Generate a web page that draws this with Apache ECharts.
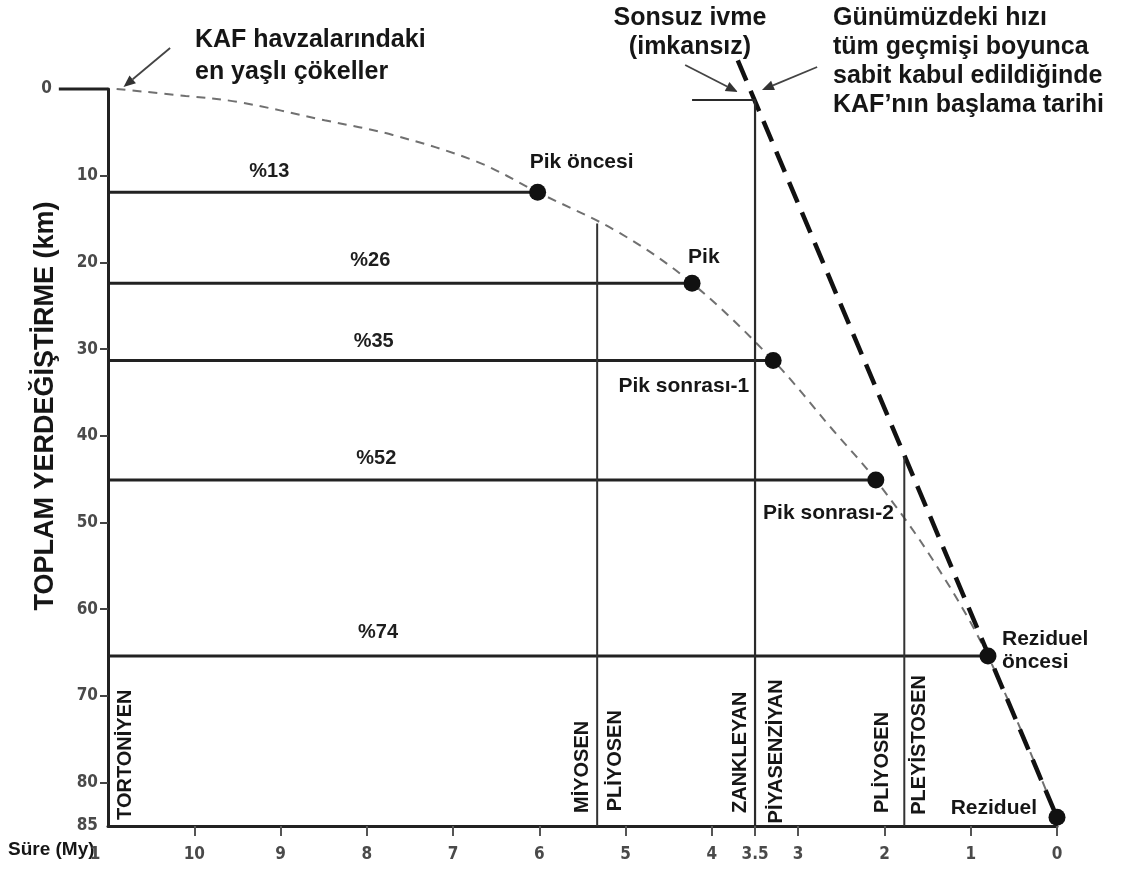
<!DOCTYPE html>
<html>
<head>
<meta charset="utf-8">
<script src="https://cdn.jsdelivr.net/npm/echarts@6/dist/echarts.min.js"></script>
<style>
html,body{margin:0;padding:0;background:#fff;}
#c{width:1143px;height:873px;}
</style>
</head>
<body>
<div id="c"></div>
<script>
// ---------------- data ----------------
const xTickValues = [11, 10, 9, 8, 7, 6, 5, 4, 3.5, 3, 2, 1, 0];
const xTickLabels = ['1', '10', '9', '8', '7', '6', '5', '4', '3.5', '3', '2', '1', '0'];
const yTickValues = [0, 10, 20, 30, 40, 50, 60, 70, 80, 85];
const yTickLabels = ['0', '10', '20', '30', '40', '50', '60', '70', '80', '85'];

const pointNames = ['Pik öncesi', 'Pik', 'Pik sonrası-1', 'Pik sonrası-2', 'Reziduel\nöncesi', 'Reziduel'];
const pointTime  = [6.02, 4.23, 3.29, 2.10, 0.80, 0.00];
const pointDisp  = [11.9, 22.4, 31.3, 45.1, 65.4, 84.0];

const pctLabels    = ['%13', '%26', '%35', '%52', '%74'];
const pctLabelTime = [9.13, 7.96, 7.92, 7.89, 7.87];

const curveTime = [10.9, 10.1, 9.49, 8.49, 7.7, 6.72, 6.02, 5.07, 4.23, 3.29, 2.6, 2.1, 1.44, 0.8, 0];
const curveDisp = [0, 0.8, 1.5, 3.6, 5.3, 8.4, 11.9, 16.6, 22.4, 31.3, 39.3, 45.1, 54.3, 65.4, 84];

const constRateTime = [3.70, 0];
const constRateDisp = [-3.3, 84];

const boundaryTime = [5.33, 1.77];
const boundaryTop  = [15.5, 42.4];
const axisBottom   = 85;
const startMarkTime = [4.23, 3.5, 3.5];
const startMarkDisp = [1.27, 1.27, 85];
const zeroTickTime = [11.57, 11];

const stageNames = ['TORTONİYEN', 'MİYOSEN', 'PLİYOSEN', 'ZANKLEYAN', 'PİYASENZİYAN', 'PLİYOSEN', 'PLEYİSTOSEN'];
const stageTime  = [10.8, 5.5, 5.12, 3.67, 3.25, 2.02, 1.59];
const stageDisp  = [84.3, 83.5, 83.3, 83.5, 84.7, 83.5, 83.7];

const arrowFromTime = [10.28, 4.31, 2.78];
const arrowFromDisp = [-4.73, -2.77, -2.54];
const arrowToTime   = [10.82, 3.70, 3.42];
const arrowToDisp   = [-0.23, 0.35, 0.12];

// ---------------- styles ----------------
const TXT = '#161616';
const FONT = "'Liberation Sans', Arial, 'DejaVu Sans', sans-serif";
const NARROW = "'Liberation Sans Narrow', 'DejaVu Sans Condensed', 'Liberation Sans', sans-serif";

const pointLabelStyle = [
  {align: 'left',  offset: [-8, -30]},
  {align: 'left',  offset: [-4, -26]},
  {align: 'right', offset: [-24, 26]},
  {align: 'right', offset: [18, 33]},
  {align: 'left',  offset: [14, -5]},
  {align: 'right', offset: [-20, -9]}
];
const pctOffsets = [-21, -23, -19, -22, -24];

const chart = echarts.init(document.getElementById('c'), null, {renderer: 'canvas'});

const series = [];

// thin dashed curve
series.push({
  type: 'line', name: 'curve', silent: true,
  data: curveTime.map((t, i) => [t, curveDisp[i]]),
  smooth: 0.35, showSymbol: false, z: 2,
  lineStyle: {color: '#707070', width: 2, type: [9, 7]}
});

// constant-rate thick dashed line
series.push({
  type: 'line', name: 'const', silent: true, clip: false,
  data: constRateTime.map((t, i) => [t, constRateDisp[i]]),
  showSymbol: false, z: 3,
  lineStyle: {color: '#111', width: 4.5, type: [22, 11]}
});

// horizontal lines from axis to each point (except last)
for (let i = 0; i < pctLabels.length; i++) {
  series.push({
    type: 'line', silent: true, showSymbol: false, z: 4,
    data: [[11, pointDisp[i]], [pointTime[i], pointDisp[i]]],
    lineStyle: {color: '#222', width: 3}
  });
}

// boundary vertical lines
for (let i = 0; i < boundaryTime.length; i++) {
  series.push({
    type: 'line', silent: true, showSymbol: false, z: 4,
    data: [[boundaryTime[i], boundaryTop[i]], [boundaryTime[i], axisBottom]],
    lineStyle: {color: '#333', width: 2}
  });
}
// start mark at 3.5 My
series.push({
  type: 'line', silent: true, showSymbol: false, z: 4,
  data: startMarkTime.map((t, i) => [t, startMarkDisp[i]]),
  lineStyle: {color: '#2a2a2a', width: 2.2}
});

// points
series.push({
  type: 'scatter', silent: true, z: 6,
  symbol: 'circle', symbolSize: 17,
  itemStyle: {color: '#111', opacity: 1},
  data: pointTime.map((t, i) => ({
    value: [t, pointDisp[i]],
    label: {
      show: true, position: 'inside', formatter: pointNames[i],
      align: pointLabelStyle[i].align, verticalAlign: 'middle',
      offset: pointLabelStyle[i].offset, opacity: 1,
      color: TXT, fontFamily: FONT, fontWeight: 'bold', fontSize: 21, lineHeight: 23
    }
  }))
});

// percent labels
series.push({
  type: 'scatter', silent: true, z: 6, symbolSize: 0,
  itemStyle: {opacity: 1},
  data: pctLabels.map((p, i) => ({
    value: [pctLabelTime[i], pointDisp[i]],
    label: {
      show: true, position: 'inside', formatter: p, opacity: 1,
      align: 'center', verticalAlign: 'middle', offset: [0, pctOffsets[i]],
      color: '#1e1e1e', fontFamily: FONT, fontWeight: 'bold', fontSize: 20
    }
  }))
});

// stage labels (vertical)
series.push({
  type: 'scatter', silent: true, z: 6, symbolSize: 0,
  itemStyle: {opacity: 1},
  data: stageNames.map((s, i) => ({
    value: [stageTime[i], stageDisp[i]],
    label: {
      show: true, position: 'inside', formatter: s, rotate: 90, opacity: 1,
      align: 'left', verticalAlign: 'middle',
      color: TXT, fontFamily: FONT, fontWeight: 'bold', fontSize: 20
    }
  }))
});

// annotation arrows
series.push({
  type: 'custom', silent: true, z: 7,
  data: arrowFromTime.map((t, i) => [t, arrowFromDisp[i], arrowToTime[i], arrowToDisp[i]]),
  encode: {x: [0, 2], y: [1, 3]},
  renderItem: function (params, api) {
    const p1 = api.coord([api.value(0), api.value(1)]);
    const p2 = api.coord([api.value(2), api.value(3)]);
    const ang = Math.atan2(p2[1] - p1[1], p2[0] - p1[0]);
    const L = 12, W = 5;
    const back = [p2[0] - L * Math.cos(ang), p2[1] - L * Math.sin(ang)];
    const left = [back[0] + W * Math.sin(ang), back[1] - W * Math.cos(ang)];
    const right = [back[0] - W * Math.sin(ang), back[1] + W * Math.cos(ang)];
    return {
      type: 'group',
      children: [
        {type: 'line', shape: {x1: p1[0], y1: p1[1], x2: back[0], y2: back[1]},
         style: {stroke: '#444', lineWidth: 1.8}},
        {type: 'polygon', shape: {points: [p2, left, right]}, style: {fill: '#333'}}
      ]
    };
  }
});

// long zero tick on the displacement axis
series.push({
  type: 'custom', silent: true, z: 7,
  data: [[zeroTickTime[0], 0, zeroTickTime[1], 0]],
  encode: {x: [0, 2], y: [1, 3]},
  renderItem: function (params, api) {
    const p1 = api.coord([api.value(0), api.value(1)]);
    const p2 = api.coord([api.value(2), api.value(3)]);
    return {type: 'line', shape: {x1: p1[0], y1: p1[1], x2: p2[0], y2: p2[1]},
            style: {stroke: '#222', lineWidth: 3}};
  }
});

function xLabel(v) {
  for (let i = 0; i < xTickValues.length; i++) {
    if (Math.abs(xTickValues[i] - v) < 1e-6) {
      return v === 11 ? '{s|' + xTickLabels[i] + '}' : xTickLabels[i];
    }
  }
  return '';
}
function yLabel(v) {
  for (let i = 0; i < yTickValues.length; i++) {
    if (Math.abs(yTickValues[i] - v) < 1e-6) {
      return v === 0 ? '{z|' + yTickLabels[i] + '}' : yTickLabels[i];
    }
  }
  return '';
}

const option = {
  animation: false,
  backgroundColor: '#fff',
  grid: {left: 108, right: 86, top: 89, bottom: 47, containLabel: false},
  xAxis: {
    type: 'value', min: 0, max: 11, inverse: true, position: 'bottom',
    splitLine: {show: false},
    axisLine: {show: true, onZero: false, lineStyle: {color: '#222', width: 3}},
    axisTick: {show: true, customValues: xTickValues.filter(v => v !== 11), length: 10,
               lineStyle: {color: '#555', width: 2}},
    axisLabel: {
      show: true, customValues: xTickValues, formatter: xLabel, margin: 20,
      color: '#4a4a4a', fontFamily: NARROW, fontWeight: 'bold', fontSize: 17,
      rich: {s: {color: '#4a4a4a', fontFamily: NARROW, fontWeight: 'bold', fontSize: 17, padding: [0, 26, 0, 0]}}
    }
  },
  yAxis: {
    type: 'value', min: 0, max: 85, inverse: true,
    splitLine: {show: false},
    axisLine: {show: true, onZero: false, lineStyle: {color: '#222', width: 3}},
    axisTick: {show: true, customValues: [10, 20, 30, 40, 50, 60, 70, 80], length: 8,
               lineStyle: {color: '#444', width: 2}},
    axisLabel: {
      show: true, customValues: yTickValues, formatter: yLabel, margin: 10,
      color: '#4a4a4a', fontFamily: NARROW, fontWeight: 'bold', fontSize: 17,
      rich: {z: {color: '#4a4a4a', fontFamily: NARROW, fontWeight: 'bold', fontSize: 17, padding: [0, 46, 0, 0]}}
    }
  },
  graphic: [
    {type: 'text', left: 195, top: 24, style: {
      text: 'KAF havzalarındaki\nen yaşlı çökeller', fill: TXT,
      font: "bold 25px " + FONT, lineHeight: 32}},
    {type: 'text', x: 690, y: 4, style: {
      text: 'Sonsuz ivme\n(imkansız)', fill: TXT, align: 'center',
      font: "bold 25px " + FONT, lineHeight: 29}},
    {type: 'text', left: 833, top: 4, style: {
      text: 'Günümüzdeki hızı\ntüm geçmişi boyunca\nsabit kabul edildiğinde\nKAF’nın başlama tarihi',
      fill: TXT, font: "bold 25px " + FONT, lineHeight: 29}},
    {type: 'text', x: 46, y: 406, rotation: Math.PI / 2, style: {
      text: 'TOPLAM YERDEĞİŞTİRME (km)', fill: TXT, align: 'center', verticalAlign: 'middle',
      font: "bold 27px " + FONT}},
    {type: 'text', left: 8, top: 840, style: {
      text: 'Süre (My)', fill: TXT, font: "bold 19px " + FONT}}
  ],
  series: series
};

chart.setOption(option);
</script>
</body>
</html>
